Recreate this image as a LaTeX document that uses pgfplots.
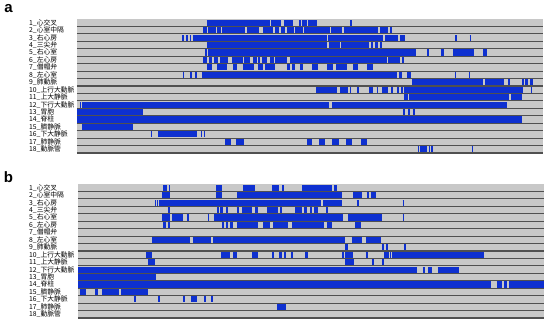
\documentclass[border=0pt]{standalone}
\usepackage{fontspec}
\setmainfont{Liberation Sans}
\newfontfamily\cjk{Noto Sans CJK JP}
\usepackage{pgfplots}
\usepackage{pgfplotstable}
\pgfplotsset{compat=1.18}
\definecolor{bggrey}{RGB}{200,200,200}
\definecolor{rowline}{RGB}{80,80,80}
\definecolor{barblue}{RGB}{14,48,208}

% segments: start, end, row (x in plot-width units 0..466)
\pgfplotstableread{
s e r
130 193 1
194 204 1
207 216 1
222 224 1
225 230 1
231 240 1
273 274.5 1
126 130 2
131 139 2
140 144 2
145 168 2
170 182 2
186 196 2
198 202 2
204 208 2
210 217 2
218 226 2
227 253 2
254 265 2
267 301 2
303 311 2
313 315 2
105 107 3
109 111 3
113 114 3
116 250 3
251 306 3
308 321 3
323 328 3
378 380 3
392.5 394 3
130 250 4
251.5 263 4
264 292 4
294 296 4
298 300.5 4
303 305 4
128 130 5
131 339 5
350 352 5
363.5 367 5
376 397 5
406 410 5
126 130 6
132 135 6
137 141 6
143 151 6
155 166 6
167 173 6
176 180 6
181 183 6
185 190 6
193 197 6
198 210 6
213 310 6
311 323 6
325 327 6
130 135 7
140 150 7
156 160 7
166 177 7
181 186 7
188 198 7
210 213 7
215 218 7
223 226 7
235 241 7
250 256 7
259 270 7
276 281 7
290 296 7
106 107.5 8
113 115 8
118 120 8
125 320 8
322 325 8
330 334 8
378 379 8
392 393 8
335 406 9
408 427 9
431 433 9
445 446.5 9
448 451 9
453 456 9
239 260 10
263 271 10
273 274 10
280 281.5 10
292 296 10
299.5 301 10
305 311 10
314 316 10
320 322 10
324 325.5 10
327 446 10
453.5 455 10
327 331 11
332 432 11
434 445 11
3.5 4.5 12
5.5 252 12
255 430 12
0 66 13
326 328 13
331 333 13
335.5 337.5 13
0 445 14
5 56 15
74 75.5 16
81 120 16
124.5 125.5 16
127 128 16
148 154 17
159 167 17
230 235 17
242 248 17
255 262 17
269 275 17
284 290 17
340.5 341.5 18
343 350 18
351.5 353 18
354 355.5 18
394.5 396 18
}\dataA

\pgfplotstableread{
s e r
85 89 1
90.5 92 1
138 144 1
165 177 1
194 201 1
204 206 1
224 254 1
255.5 258.5 1
84 92 2
138 144 2
159 264 2
275 284 2
288.5 290.5 2
292.5 298 2
77 78 3
79 80 3
80.5 243 3
245 264 3
278.5 280.5 3
324.5 326 3
89.5 92 4
139 141 4
142 145 4
148 150 4
158.5 161 4
164 174 4
176.5 180 4
189 200 4
202 204 4
217 224 4
225.5 229 4
232 234 4
236 240 4
248 250 4
84 92 5
94 105 5
108.5 110.5 5
129.5 131 5
136 265 5
270 304 5
324.5 326 5
85 88 6
89.5 91.5 6
143.5 145.5 6
148 150 6
152 155 6
159 180 6
185 192 6
195 210 6
214 246 6
248.5 254 6
277 283 6
74 112 8
114.5 133 8
135 267 8
273.5 284 8
287.5 303 8
267 270 9
304 306 9
308 310 9
326 328 9
68 74 10
143 152 10
155 159 10
174 180 10
194 196 10
201 204 10
206 208 10
213 215 10
227 229.5 10
264 265.5 10
267 275 10
287.5 289.5 10
306 311 10
312 313 10
314 406 10
70 77 11
267 276 11
293.5 295.5 11
304 306 11
0 339 12
344.5 346.5 12
350 354 12
359.5 381 12
0 78 13
0 413 14
418.5 423.5 14
426 429 14
431 466 14
2 8 15
17 20 15
24 41 15
43.5 70 15
56 58 16
80 82 16
105 107 16
113 119 16
126 128 16
133 135 16
199 208 17
}\dataB

\pgfplotsset{
  rowaxis/.style={
    width=466pt, height=134pt, scale only axis,
    xmin=0, xmax=466, ymin=0.5, ymax=18.5, y dir=reverse,
    axis background/.style={fill=bggrey},
    axis line style={draw=none},
    xtick=\empty,
    ytick={1,...,18},
    yticklabels={1\_心交叉,2\_心室中隔,3\_右心房,4\_三尖弁,5\_右心室,6\_左心房,7\_僧帽弁,8\_左心室,9\_肺動脈,10\_上行大動脈,11\_上大静脈,12\_下行大動脈,13\_胃胞,14\_脊柱,15\_臍静脈,16\_下大静脈,17\_肺静脈,18\_動脈管},
    ytick style={draw=none},
    yticklabel style={font=\cjk\fontsize{6.8}{7}\selectfont, anchor=base west, inner sep=0pt, yshift=-2.4pt, text=black},
    extra y ticks={1.5,2.5,...,18.5},
    extra y tick labels={},
    extra y tick style={grid=major, major grid style={draw=rowline, line width=1.1pt},
      major tick length=48pt, tick align=outside,
      tick style={draw=rowline, line width=1.1pt}},
    clip=false,
  },
  segs/.style={mark=none, draw=barblue, line width=6.2pt, line cap=butt,
    quiver={u=\thisrow{e}-\thisrow{s}, v=0}},
}

\begin{document}
\begin{tikzpicture}
\useasboundingbox (0,0) rectangle (550pt,325pt);
\node[font=\bfseries\fontsize{15}{15}\selectfont, inner sep=0pt] at (8.5pt,316pt) {a};
\node[font=\bfseries\fontsize{15}{15}\selectfont, inner sep=0pt] at (8.5pt,147.5pt) {b};

\begin{axis}[rowaxis, at={(77pt,172pt)}, anchor=south west,
  yticklabel style={xshift=-48pt}]
  \addplot[segs] table[x=s, y=r] {\dataA};
\end{axis}

\begin{axis}[rowaxis, at={(78pt,7pt)}, anchor=south west,
  yticklabel style={xshift=-49pt},
  extra y tick style={major tick length=49pt}]
  \addplot[segs] table[x=s, y=r] {\dataB};
\end{axis}
\end{tikzpicture}
\end{document}
